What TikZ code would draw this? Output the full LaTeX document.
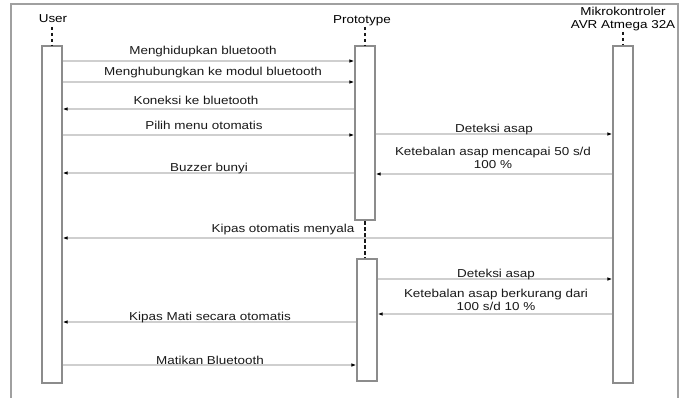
\documentclass[tikz,border=0pt]{standalone}
\usepackage{fontspec}
\setmainfont{Liberation Sans}[FakeStretch=1.17]
\usetikzlibrary{arrows.meta}
\definecolor{boxgray}{HTML}{8C8C8C}
\definecolor{msggray}{HTML}{CFCFCF}
\definecolor{framegray}{HTML}{A0A0A0}
\tikzset{
  actbox/.style={draw=boxgray, line width=1.2pt, fill=white, minimum width=20pt, inner sep=0pt},
  head/.style={inner sep=0pt, anchor=base, align=center},
  lifedash/.style={line width=1.9pt, black!90, dash pattern=on 3.5pt off 2.5pt},
  msg/.style={draw=msggray, line width=1.1pt, -{Latex[length=5pt,width=3.6pt,color=black]}},
  lbl/.style={inner sep=0pt, anchor=base, align=center, text=black!90},
  frame/.style={draw=framegray, line width=1.6pt},
}
% message arrow between two named anchors at a given height
\newcommand{\msgline}[3]{\draw[msg] (#1 |- {0,#3}) -- (#2 |- {0,#3});}
\begin{document}
\begin{tikzpicture}[x=1pt, y=-1pt, font=\fontsize{11.5}{13}\selectfont]
\useasboundingbox (0,0) rectangle (684,398);

% enclosing frame, open at the bottom
\draw[frame] (11,398) -- (11,4) -- (678,4) -- (678,398);

% lifeline heads (base = baseline of the last line)
\node[head] (user) at (53,22.5) {User};
\node[head] (proto) at (362,23.5) {Prototype};
\node[head] (mcu) at (623,29) {Mikrokontroler\\AVR Atmega 32A};

% activation boxes
\node[actbox, minimum height=337pt] (ubox) at (52,214.5) {};
\node[actbox, minimum height=174pt] (pbox1) at (365,133) {};
\node[actbox, minimum height=122pt] (pbox2) at (367,320) {};
\node[actbox, minimum height=337pt] (mbox) at (623,214.5) {};

% dashed lifelines
\draw[lifedash] (ubox.north |- {0,27}) -- (ubox.north);
\draw[lifedash] (pbox1.north |- {0,27}) -- (pbox1.north);
\draw[lifedash] (mbox.north |- {0,32}) -- (mbox.north);
\draw[lifedash] ([yshift=-0.6pt]pbox1.south) -- ([xshift=-2pt,yshift=0.6pt]pbox2.north);

% messages
\msgline{ubox.east}{pbox1.west}{61}
\node[lbl] (m1) at (203,54.5) {Menghidupkan bluetooth};
\msgline{ubox.east}{pbox1.west}{82}
\node[lbl] (m2) at (213,75.5) {Menghubungkan ke modul bluetooth};
\msgline{pbox1.west}{ubox.east}{109}
\node[lbl] (m3) at (196,105) {Koneksi ke bluetooth};
\msgline{ubox.east}{pbox1.west}{135}
\node[lbl] (m4) at (204,130) {Pilih menu otomatis};
\msgline{pbox1.east}{mbox.west}{134}
\node[lbl] (m5) at (494,133) {Deteksi asap};
\msgline{mbox.west}{pbox1.east}{174}
\node[lbl] (m6) at (493,168.5) {Ketebalan asap mencapai 50 s/d\\100 \%};
\msgline{pbox1.west}{ubox.east}{173}
\node[lbl] (m7) at (209,171) {Buzzer bunyi};
\msgline{mbox.west}{ubox.east}{238}
\node[lbl] (m8) at (283,232) {Kipas otomatis menyala};
\msgline{pbox2.east}{mbox.west}{279}
\node[lbl] (m9) at (496,277) {Deteksi asap};
\msgline{mbox.west}{pbox2.east}{314}
\node[lbl] (m10) at (496,310.5) {Ketebalan asap berkurang dari\\100 s/d 10 \%};
\msgline{pbox2.west}{ubox.east}{322}
\node[lbl] (m11) at (210,320) {Kipas Mati secara otomatis};
\msgline{ubox.east}{pbox2.west}{365}
\node[lbl] (m12) at (210,364) {Matikan Bluetooth};
\end{tikzpicture}
\end{document}
